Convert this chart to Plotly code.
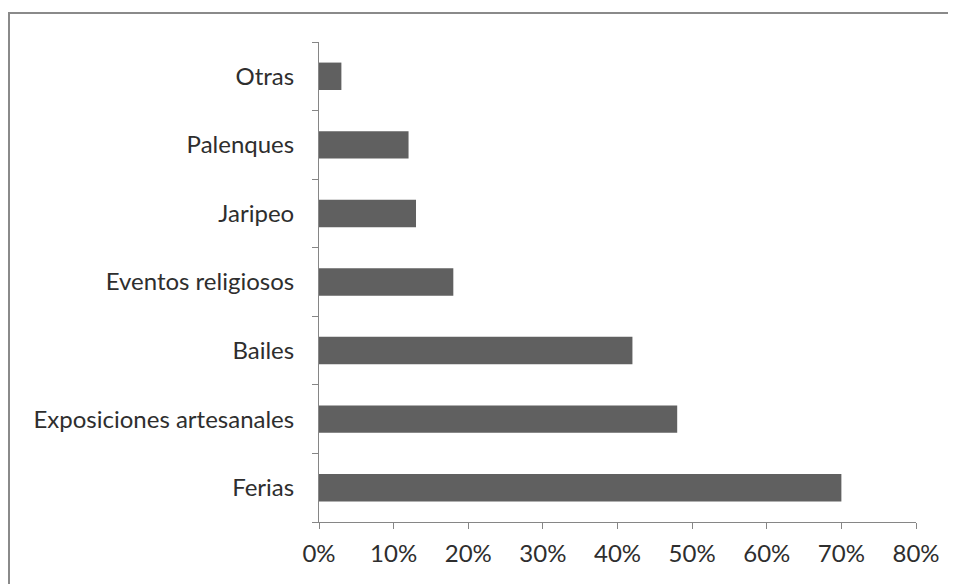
import plotly.graph_objects as go

categories = ["Ferias", "Exposiciones artesanales", "Bailes", "Eventos religiosos", "Jaripeo", "Palenques", "Otras"]
values = [0.70, 0.48, 0.42, 0.18, 0.13, 0.12, 0.03]
x_ticks = [0, 0.1, 0.2, 0.3, 0.4, 0.5, 0.6, 0.7, 0.8]
x_tick_labels = ["0%", "10%", "20%", "30%", "40%", "50%", "60%", "70%", "80%"]

font_family = "Lato, 'Open Sans', sans-serif"
axis_color = "#868686"

# page body has an 8px margin, so the figure is drawn at (8, 8)
W, H = 948, 576
L, R, T, B = 311, 40, 34, 62
pw, ph = W - L - R, H - T - B

fig = go.Figure(go.Bar(
    x=values, y=categories, orientation="h",
    marker=dict(color="#606060", line=dict(width=0)),
    width=0.4,
))

fig.update_layout(
    width=W, height=H,
    margin=dict(l=L, r=R, t=T, b=B),
    paper_bgcolor="white", plot_bgcolor="white",
    showlegend=False,
    font=dict(family=font_family, size=24, color="#2e2e2e"),
    xaxis=dict(
        range=[0, 0.8], tickvals=x_ticks, ticktext=x_tick_labels,
        showgrid=False, zeroline=False,
        showline=True, linecolor=axis_color, linewidth=1,
        ticks="outside", ticklen=6, tickcolor=axis_color,
        ticklabelstandoff=4,
    ),
    yaxis=dict(
        type="category", categoryorder="array", categoryarray=categories,
        range=[-0.5, len(categories) - 0.5],
        showgrid=False, zeroline=False,
        showline=True, linecolor=axis_color, linewidth=1,
        ticks="outside", ticklen=6, tickcolor=axis_color,
        tickson="boundaries", ticklabelstandoff=19,
    ),
    shapes=[dict(
        type="rect", xref="paper", yref="paper",
        x0=-(L - 1) / pw, x1=(W - L + 20) / pw,
        y0=-(B + 40) / ph, y1=1 + (T - 5) / ph,
        line=dict(color="#8a8a8a", width=2), fillcolor="rgba(0,0,0,0)",
        layer="below",
    )],
)

fig.write_html("out.html")
